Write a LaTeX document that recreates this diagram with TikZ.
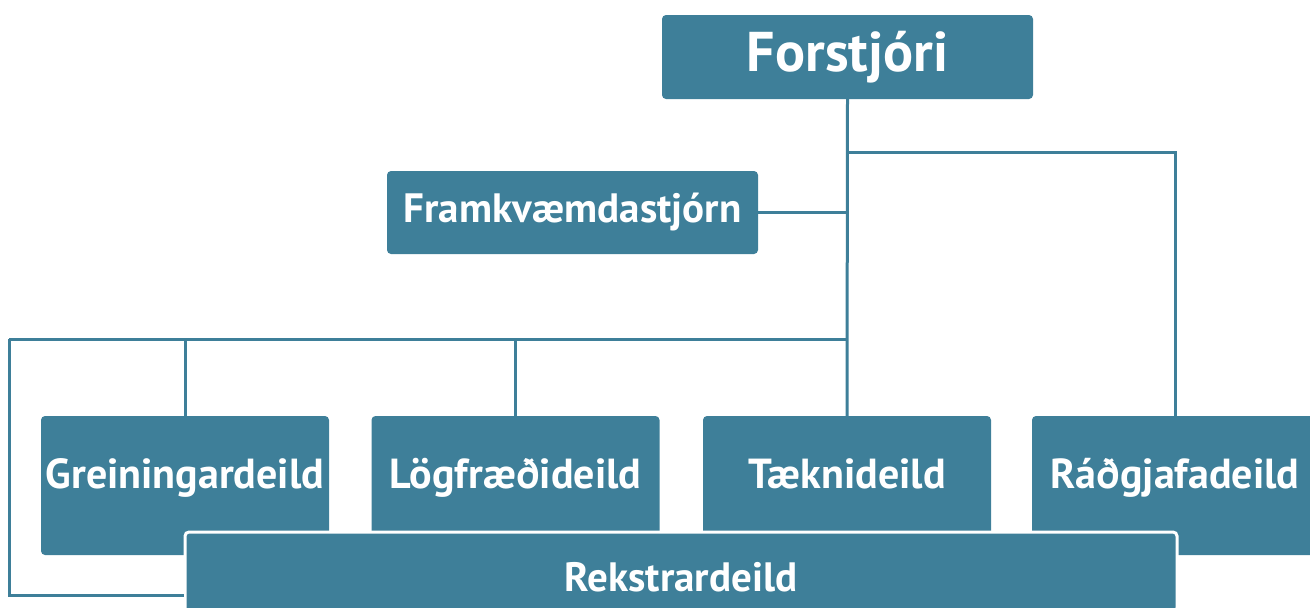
\documentclass[tikz,border=0pt]{standalone}
\usepackage{fontspec}
\setmainfont{PT Sans}
\usetikzlibrary{calc}
\definecolor{teal}{HTML}{3E7F99}
\begin{document}
\begin{tikzpicture}[x=1pt,y=-1pt,
  box/.style={fill=teal,draw=none,rounded corners=4pt,inner sep=0pt,text=white,font=\bfseries},
  lbl/.style={text=white,font=\bfseries\fontsize{42}{44}\selectfont,text height=0.72em,text depth=0.22em,inner sep=0pt,yshift=0pt},
  conn/.style={draw=teal,line width=3pt}]
\useasboundingbox (0,0) rectangle (1310,608);
% boxes
\node[box,minimum width=371pt,minimum height=84pt,font=\bfseries\fontsize{56}{58}\selectfont] (f) at (847.5,57) {Forstjóri};
\node[box,minimum width=371pt,minimum height=83pt,font=\bfseries\fontsize{41}{44}\selectfont] (fk) at (572.5,212.5) {Framkvæmdastjórn};
\node[box,minimum width=288pt,minimum height=139pt,label={[lbl]center:Greiningardeild}] (g) at (185,485.5) {};
\node[box,minimum width=288pt,minimum height=139pt,label={[lbl]center:Lögfræðideild}] (l) at (515.5,485.5) {};
\node[box,minimum width=288pt,minimum height=139pt,label={[lbl]center:Tæknideild}] (t) at (847,485.5) {};
\node[box,minimum width=286pt,minimum height=139pt,label={[lbl]center:Ráðgjafadeild}] (r) at (1175,485.5) {};
% connectors
\coordinate (j) at (f.south |- 0,339);
\coordinate (jr) at (f.south |- 0,152);
\coordinate (cl) at (9,339);
\draw[conn] (f.south) -- (t.north);
\draw[conn] (jr) -| (r.north);
\draw[conn] (fk.east) -- (fk.east -| f.south);
\draw[conn] (j) -- (cl);
\draw[conn] (g.north) -- (g.north |- j);
\draw[conn] (l.north) -- (l.north |- j);
% Rekstrardeild
\node[box,draw=white,line width=3pt,minimum width=992pt,minimum height=80pt,label={[lbl,font=\bfseries\fontsize{41}{44}\selectfont,yshift=-17pt]center:Rekstrardeild}] (re) at (681,572) {};
\coordinate (rl) at ([yshift=-23pt]re.west);
\draw[conn] (cl) |- (rl);
\end{tikzpicture}
\end{document}
